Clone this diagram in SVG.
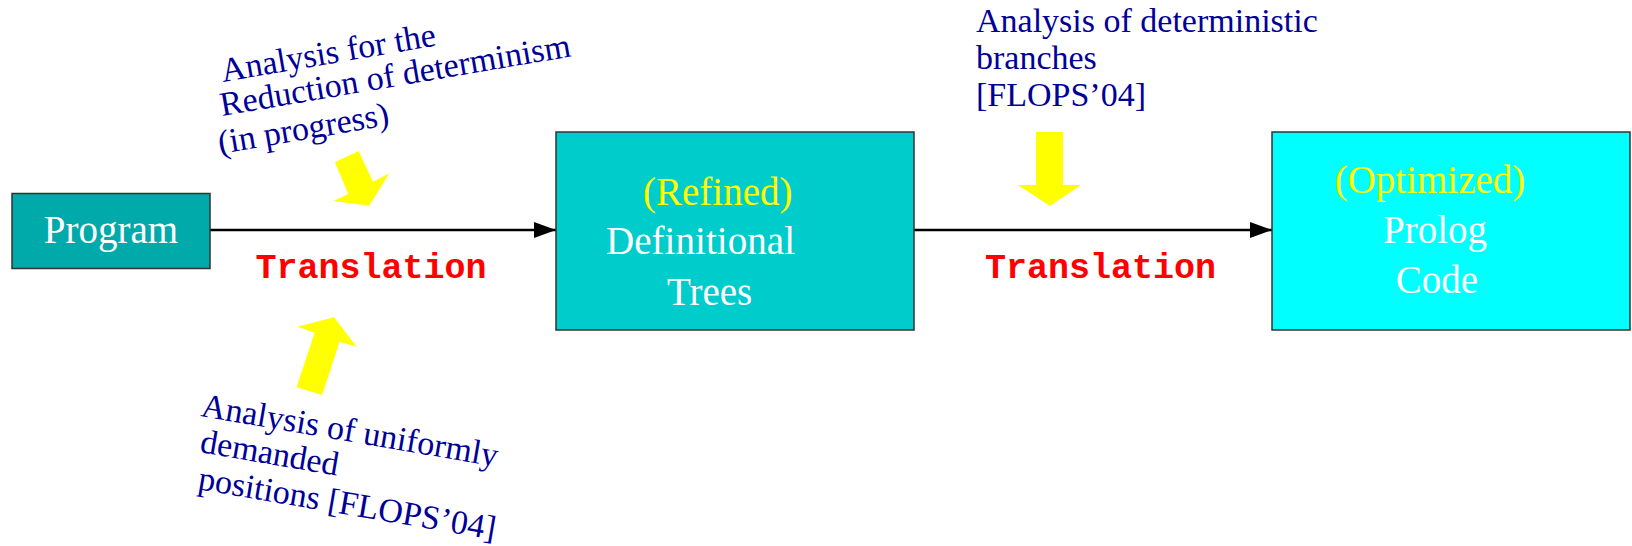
<svg xmlns="http://www.w3.org/2000/svg" width="1632" height="546" viewBox="0 0 1632 546">
  <defs>
    <marker id="arrow" markerWidth="22" markerHeight="16" refX="22" refY="8" orient="auto" markerUnits="userSpaceOnUse">
      <path d="M0,0 L22,8 L0,16 Z" fill="#000"/>
    </marker>
    <style>
      .box { stroke: #333; stroke-width: 1.5; }
      .node { font-family: "Liberation Serif", "Times New Roman", serif; font-size: 39px; fill: #fff; }
      .hl { fill: #ffff00; }
      .note { font-family: "Liberation Serif", "Times New Roman", serif; font-size: 34px; fill: #000099; }
      .tr { font-family: "Liberation Mono", "Courier New", monospace; font-size: 35px; font-weight: bold; fill: #ff0000; }
      .conn { stroke: #000; stroke-width: 2.5; fill: none; }
      .yarrow { fill: #ffff00; }
    </style>
  </defs>
  <rect width="1632" height="546" fill="#fff"/>

  <g id="connectors">
    <line class="conn" x1="210" y1="230" x2="556" y2="230" marker-end="url(#arrow)"/>
    <line class="conn" x1="914" y1="230" x2="1272" y2="230" marker-end="url(#arrow)"/>
  </g>

  <g id="program">
    <rect class="box" x="12" y="193.5" width="198" height="75" fill="#00aaaa"/>
    <text class="node" x="111" y="243" text-anchor="middle">Program</text>
  </g>

  <g id="definitional-trees">
    <rect class="box" x="556" y="132" width="358" height="198" fill="#00cccc"/>
    <text class="node hl" x="643" y="205">(Refined)</text>
    <text class="node" x="606" y="254" textLength="189" lengthAdjust="spacing">Definitional</text>
    <text class="node" x="667" y="305">Trees</text>
  </g>

  <g id="prolog-code">
    <rect class="box" x="1272" y="132" width="358" height="198" fill="#00ffff"/>
    <text class="node hl" x="1430" y="193" text-anchor="middle">(Optimized)</text>
    <text class="node" x="1435" y="243" text-anchor="middle">Prolog</text>
    <text class="node" x="1437" y="293" text-anchor="middle">Code</text>
  </g>

  <g id="translation-1">
    <text class="tr" x="255.5" y="278">Translation</text>
  </g>
  <g id="translation-2">
    <text class="tr" x="985" y="278">Translation</text>
  </g>

  <g id="note-reduction">
    <text class="note" transform="translate(223,82) rotate(-9.7)">Analysis for the</text>
    <text class="note" transform="translate(222,116) rotate(-9.7)">Reduction of determinism</text>
    <text class="note" transform="translate(220,154) rotate(-9.7)">(in progress)</text>
    <polygon class="yarrow" points="334.9,162.3 358.6,151 373.1,181.7 389.2,173.3 369.3,205.7 333.7,201 348.3,194"/>
  </g>

  <g id="note-uniform">
    <polygon class="yarrow" points="334.1,317.3 297.7,326.7 314.6,332.7 296.6,387.3 322.2,395 339.5,341.7 356.7,346.7"/>
    <text class="note" transform="translate(200,416) rotate(9.7)">Analysis of uniformly</text>
    <text class="note" transform="translate(199,452) rotate(9.7)">demanded</text>
    <text class="note" transform="translate(197,489) rotate(9.7)">positions [FLOPS’04]</text>
  </g>

  <g id="note-deterministic">
    <text class="note" x="976" y="32">Analysis of deterministic</text>
    <text class="note" x="976" y="69">branches</text>
    <text class="note" x="976" y="106">[FLOPS’04]</text>
    <polygon class="yarrow" points="1036,132 1063,132 1063,185 1081,185 1050,206 1018,185 1036,185"/>
  </g>
</svg>
